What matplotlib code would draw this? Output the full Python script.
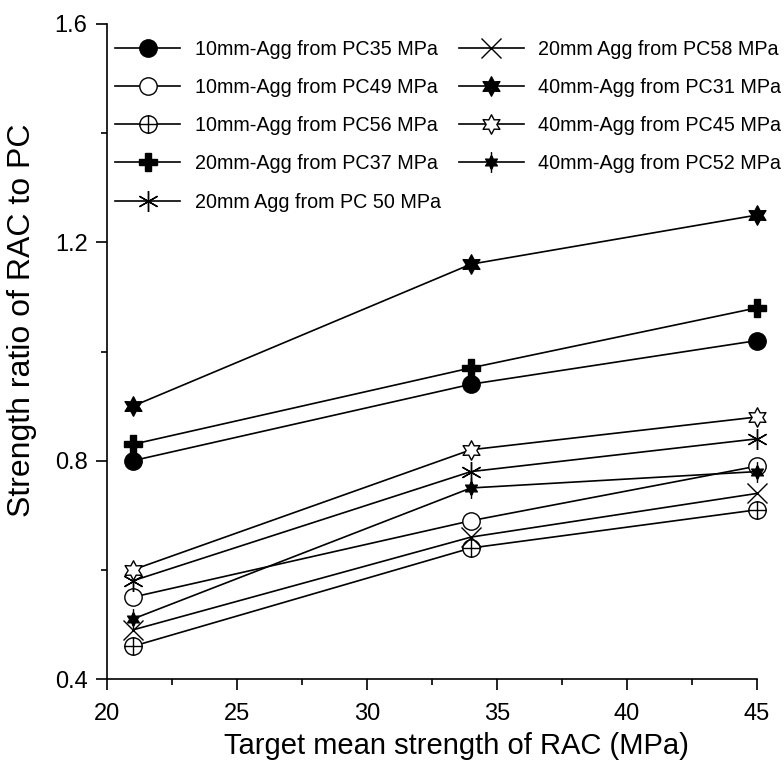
import matplotlib
matplotlib.use("Agg")
import matplotlib.pyplot as plt
from matplotlib.path import Path
from matplotlib.ticker import MultipleLocator

plt.rcParams['font.family'] = ['Liberation Sans', 'DejaVu Sans']

# data
x = [21, 34, 45]
pc35_10 = [0.80, 0.94, 1.02]
pc49_10 = [0.55, 0.69, 0.79]
pc56_10 = [0.46, 0.64, 0.71]
pc37_20 = [0.83, 0.97, 1.08]
pc50_20 = [0.58, 0.78, 0.84]
pc58_20 = [0.49, 0.66, 0.74]
pc31_40 = [0.90, 1.16, 1.25]
pc45_40 = [0.60, 0.82, 0.88]
pc52_40 = [0.51, 0.75, 0.78]

labels = ["10mm-Agg from PC35 MPa", "10mm-Agg from PC49 MPa", "10mm-Agg from PC56 MPa",
          "20mm-Agg from PC37 MPa", "20mm Agg from PC 50 MPa", "20mm Agg from PC58 MPa",
          "40mm-Agg from PC31 MPa", "40mm-Agg from PC45 MPa", "40mm-Agg from PC52 MPa"]

# custom markers
circ = Path.unit_circle()
cross = Path([(-1, 0), (1, 0), (0, -1), (0, 1)],
             [Path.MOVETO, Path.LINETO, Path.MOVETO, Path.LINETO])
oplus = Path.make_compound_path(circ, cross)
star6 = Path.unit_regular_star(6, 0.55)
star6s = Path(star6.vertices * 0.75, star6.codes)
spike = Path([(0, -1.15), (0, 1.15)], [Path.MOVETO, Path.LINETO])
starspike = Path.make_compound_path(star6s, spike)

series = [
    (pc35_10, dict(marker='o', mfc='black', ms=12.5)),
    (pc49_10, dict(marker='o', mfc='white', ms=12.5)),
    (pc56_10, dict(marker=oplus, mfc='white', ms=12.5)),
    (pc37_20, dict(marker='P', mfc='black', ms=13)),
    (pc50_20, dict(marker=(6, 2, 0), mfc='black', ms=15)),
    (pc58_20, dict(marker='x', mfc='black', ms=14)),
    (pc31_40, dict(marker=star6, mfc='black', ms=14)),
    (pc45_40, dict(marker=star6, mfc='white', ms=14)),
    (pc52_40, dict(marker=starspike, mfc='black', ms=15)),
]

fig = plt.figure(figsize=(7.84, 7.65), dpi=100)
ax = fig.add_axes([107/784, 1 - 679/765, 650/784, 655/765])

for (y, st), lab in zip(series, labels):
    ax.plot(x, y, color='black', lw=1.2, mec='black', mew=1.0, label=lab,
            clip_on=False, **st)

ax.set_xlim(20, 45)
ax.set_ylim(0.4, 1.6)
ax.xaxis.set_major_locator(MultipleLocator(5))
ax.xaxis.set_minor_locator(MultipleLocator(2.5))
ax.yaxis.set_major_locator(MultipleLocator(0.4))
ax.yaxis.set_minor_locator(MultipleLocator(0.2))
ax.set_yticks([0.4, 0.8, 1.2, 1.6])
ax.set_yticklabels(['0.4', '0.8', '1.2', '1.6'])
ax.spines['top'].set_visible(False)
ax.spines['right'].set_visible(False)
for s in ['left', 'bottom']:
    ax.spines[s].set_linewidth(1.2)
ax.tick_params(which='major', direction='out', length=8, width=1.2, labelsize=17)
ax.tick_params(axis='x', which='major', pad=9)
ax.tick_params(axis='y', which='major', pad=6)
ax.tick_params(which='minor', direction='out', length=4, width=1.2)

ax.set_xlabel("Target mean strength of RAC (MPa)", fontsize=21)
ax.set_ylabel("Strength ratio of RAC to PC", fontsize=23)
ax.xaxis.set_label_coords(0.538, -0.081)
ax.yaxis.set_label_coords(-0.108, 0.548)

leg = ax.legend(ncol=2, loc='upper left', bbox_to_anchor=(8/650, 1 - 16/655),
                frameon=False, fontsize=14.2, handlelength=3.3, handletextpad=0.75,
                columnspacing=0.9, labelspacing=0.97, borderpad=0, borderaxespad=0)

fig.savefig("out.png", dpi=100)
